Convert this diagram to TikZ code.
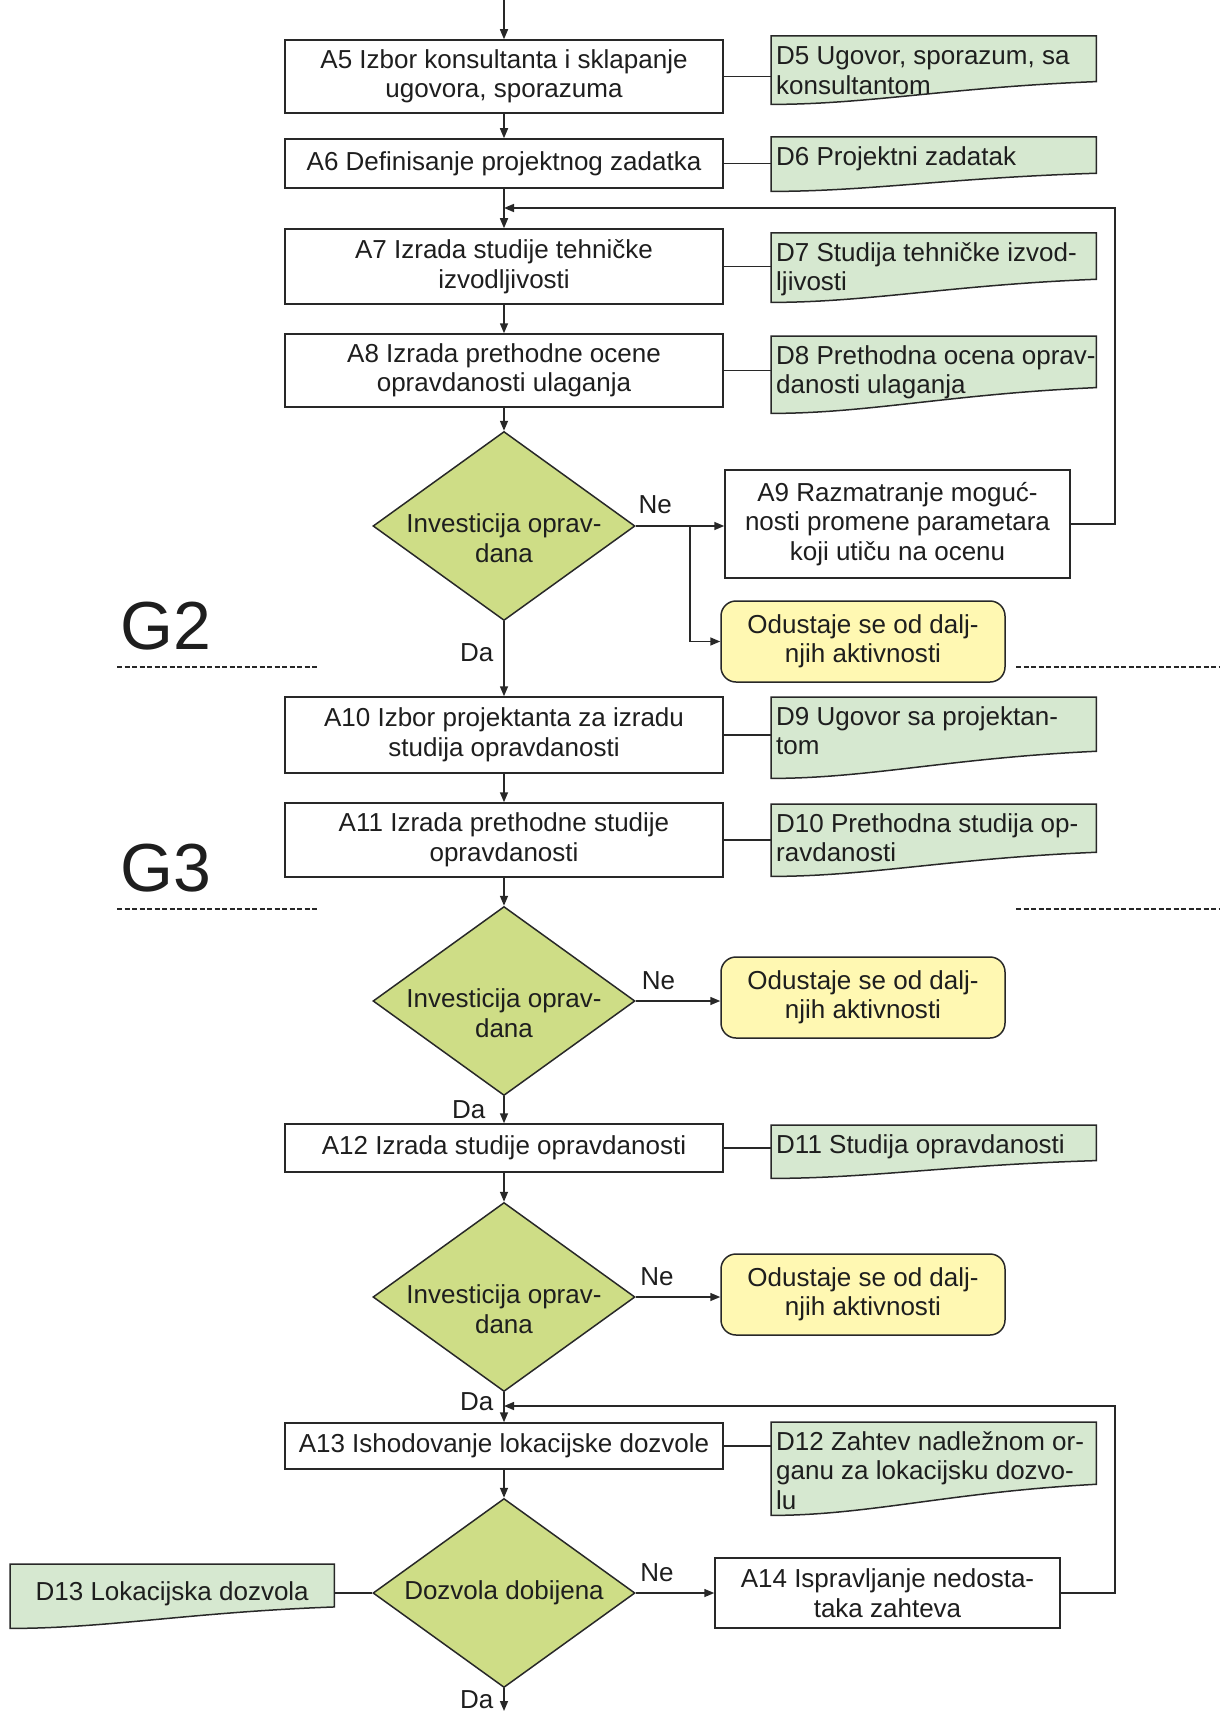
\documentclass[tikz,border=0pt]{standalone}
\usepackage{fontspec}
\setmainfont{Liberation Sans}
\usetikzlibrary{shapes.geometric,arrows.meta,backgrounds,calc}
\definecolor{diag}{RGB}{206,221,134}
\definecolor{docg}{RGB}{214,232,208}
\definecolor{yel}{RGB}{255,248,178}
\definecolor{lnc}{RGB}{40,40,40}
\definecolor{txt}{RGB}{30,30,30}
\newcommand\mydocbox[4]{\begin{minipage}[c][#2pt][t]{#1pt}\vspace*{#3pt}\hspace*{5pt}\begin{tabular}[t]{@{}l@{}}#4\end{tabular}\end{minipage}}
\newcommand\mydocshape[1]{%
 \path[docsh] let \p1=(#1.south west), \p2=(#1.north east), \n1={\x2-\x1}, \n2={(\y2-\y1)/3} in
 (\x1,\y2) -- (\x2,\y2) -- (\x2,\y1+\n2) .. controls (\x2-0.45*\n1,\y1+0.75*\n2) and (\x1+0.3*\n1,\y1) .. (\x1,\y1) -- cycle;}
\begin{document}
\begin{tikzpicture}[x=1pt,y=-1pt,
  every node/.style={font=\fontsize{26}{29.5}\selectfont, text=txt},
  ln/.style={draw=lnc, line width=1.5pt},
  abox/.style={ln, fill=white, rectangle, align=center, inner sep=2pt, minimum width=438pt},
  sbox/.style={ln, fill=white, rectangle, align=center, inner sep=2pt, minimum width=345pt},
  endbox/.style={ln, fill=yel, rounded corners=15pt, align=center, minimum width=284pt, minimum height=81pt, inner sep=2pt},
  dia/.style={ln, fill=diag, shape=diamond, minimum width=262pt, minimum height=189pt, inner sep=0pt},
  dtext/.style={align=center, inner sep=0pt},
  docn/.style={inner sep=0pt, anchor=north west},
  docsh/.style={ln, fill=docg},
  arr/.style={ln, -{Triangle[length=10pt,width=8pt]}},
  lbl/.style={inner sep=2pt},
  glab/.style={font=\fontsize{68}{80}\selectfont},
  sepl/.style={draw=lnc, line width=2pt, dash pattern=on 5pt off 2.5pt}
]
\useasboundingbox (0,0) rectangle (1219,1712);
% process boxes
\node[abox, minimum height=73pt] (a5) at (504,76.5) {A5 Izbor konsultanta i sklapanje\\ugovora, sporazuma};
\node[abox, minimum height=49pt] (a6) at (504,163.5) {A6 Definisanje projektnog zadatka};
\node[abox, minimum height=75pt] (a7) at (504,266.5) {A7 Izrada studije tehničke\\izvodljivosti};
\node[abox, minimum height=73pt] (a8) at (504,370.5) {A8 Izrada prethodne ocene\\opravdanosti ulaganja};
\node[dia] (d1) at (504,526) {};
\node[dtext] (d1t) at (504,538) {Investicija oprav-\\dana};
\node[sbox, minimum height=108pt] (a9) at (897.5,524) {A9 Razmatranje moguć-\\nosti promene parametara\\koji utiču na ocenu};
\node[endbox] (o1) at (863,641.5) {Odustaje se od dalj-\\njih aktivnosti};
\node[abox, minimum height=76pt] (a10) at (504,735) {A10 Izbor projektanta za izradu\\studija opravdanosti};
\node[abox, minimum height=74pt] (a11) at (504,840) {A11 Izrada prethodne studije\\opravdanosti};
\node[dia] (d2) at (504,1001) {};
\node[dtext] (d2t) at (504,1013) {Investicija oprav-\\dana};
\node[endbox] (o2) at (863,997.5) {Odustaje se od dalj-\\njih aktivnosti};
\node[abox, minimum height=48pt] (a12) at (504,1148) {A12 Izrada studije opravdanosti};
\node[dia] (d3) at (504,1297) {};
\node[dtext] (d3t) at (504,1309) {Investicija oprav-\\dana};
\node[endbox] (o3) at (863,1294.5) {Odustaje se od dalj-\\njih aktivnosti};
\node[abox, minimum height=46pt] (a13) at (504,1446) {A13 Ishodovanje lokacijske dozvole};
\node[dia] (d4) at (504,1593) {};
\node[dtext] (d4t) at (504,1593) {Dozvola dobijena};
\node[sbox, minimum height=70pt] (a14) at (887.5,1593) {A14 Ispravljanje nedosta-\\taka zahteva};
% documents
\node[docn] (d5) at (771,36) {\mydocbox{325}{68}{8}{D5 Ugovor, sporazum, sa\\konsultantom}};
\node[docn] (d6) at (771,137) {\mydocbox{325}{54}{7.5}{D6 Projektni zadatak}};
\node[docn] (d7) at (771,233) {\mydocbox{325}{69}{7.5}{D7 Studija tehničke izvod-\\ljivosti}};
\node[docn] (d8) at (771,336) {\mydocbox{325}{77}{7.5}{D8 Prethodna ocena oprav-\\danosti ulaganja}};
\node[docn] (d9) at (771,697) {\mydocbox{325}{81}{7.5}{D9 Ugovor sa projektan-\\tom}};
\node[docn] (d10) at (771,804) {\mydocbox{325}{72}{7.5}{D10 Prethodna studija op-\\ravdanosti}};
\node[docn] (d11) at (771,1125) {\mydocbox{325}{53}{7.5}{D11 Studija opravdanosti}};
\node[docn] (d12) at (771,1422) {\mydocbox{325}{93}{7.5}{D12 Zahtev nadležnom or-\\ganu za lokacijsku dozvo-\\lu}};
\node[docn] (d13) at (10,1564) {\begin{minipage}[c][64pt][t]{324pt}\vspace*{16pt}\centering\begin{tabular}[t]{@{}c@{}}D13 Lokacijska dozvola\end{tabular}\end{minipage}};
% phase labels
\node[glab] (g2) at (166,626) {G2};
\node[glab] (g3) at (166,868) {G3};
\draw[sepl] (117,667) -- (317,667);
\draw[sepl] (1016,667) -- (1219,667);
\draw[sepl] (117,909) -- (317,909);
\draw[sepl] (1016,909) -- (1219,909);
% connectors
\coordinate (top) at (504,0);
\coordinate (br1) at (690,526);
\coordinate (lp1) at (504,208);
\coordinate (lp2) at (504,1406);
\coordinate (bot) at (504,1711);
\draw[arr] (top) -- (a5.north);
\draw[arr] (a5.south) -- (a6.north);
\draw[arr] (a6.south) -- (a7.north);
\draw[arr] (a7.south) -- (a8.north);
\draw[arr] (a8.south) -- (d1.north);
\draw[arr] (d1.east) -- node[lbl, pos=0.22, above=9pt] (ne1) {Ne} (d1.east -| a9.west);
\draw[arr] (br1) |- (o1.west);
\draw[arr] (a9.east) -- ++(44,0) |- (lp1);
\draw[arr] (d1.south) -- node[lbl, pos=0.42, left=8pt] (da1) {Da} (a10.north);
\draw[arr] (a10.south) -- (a11.north);
\draw[arr] (a11.south) -- (d2.north);
\draw[arr] (d2.east) -- node[lbl, pos=0.27, above=9pt] (ne2) {Ne} (d2.east -| o2.west);
\draw[arr] (d2.south) -- node[lbl, pos=0.5, left=16pt] (da2) {Da} (a12.north);
\draw[arr] (a12.south) -- (d3.north);
\draw[arr] (d3.east) -- node[lbl, pos=0.25, above=9pt] (ne3) {Ne} (d3.east -| o3.west);
\draw[arr] (d3.south) -- node[lbl, pos=0.3, left=8pt] (da3) {Da} (a13.north);
\draw[arr] (a14.east) -- ++(54,0) |- (lp2);
\draw[arr] (a13.south) -- (d4.north);
\draw[arr] (d4.east) -- node[lbl, pos=0.27, above=9pt] (ne4) {Ne} (a14.west);
\draw[ln] (d4.west) -- (d4.west -| d13.east);
\draw[arr] (d4.south) -- node[lbl, pos=0.5, left=8pt] (da4) {Da} (bot);
% box to document links
\draw[ln] (a5.east) -- (a5.east -| d5.west);
\draw[ln] (a6.east) -- (a6.east -| d6.west);
\draw[ln] (a7.east) -- (a7.east -| d7.west);
\draw[ln] (a8.east) -- (a8.east -| d8.west);
\draw[ln] (a10.east) -- (a10.east -| d9.west);
\draw[ln] (a11.east) -- (a11.east -| d10.west);
\draw[ln] (a12.east) -- (a12.east -| d11.west);
\draw[ln] (a13.east) -- (a13.east -| d12.west);
\begin{scope}[on background layer]
\fill[white] (0,0) rectangle (1219,1712);
\mydocshape{d5}
\mydocshape{d6}
\mydocshape{d7}
\mydocshape{d8}
\mydocshape{d9}
\mydocshape{d10}
\mydocshape{d11}
\mydocshape{d12}
\mydocshape{d13}
\end{scope}
\end{tikzpicture}
\end{document}
